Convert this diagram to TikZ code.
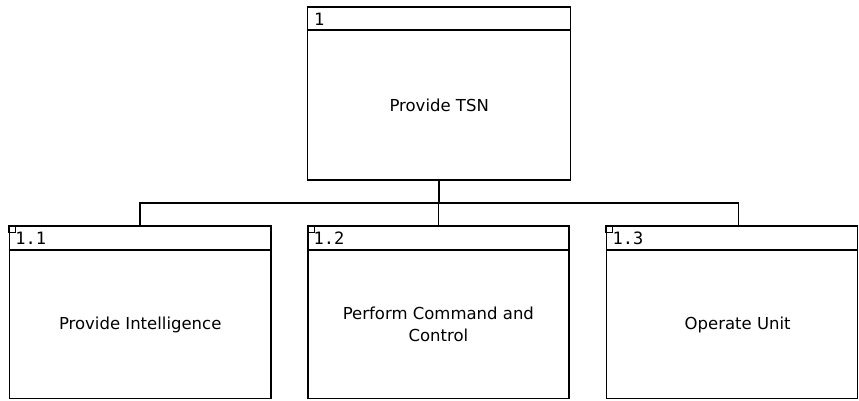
\documentclass[tikz,border=0pt]{standalone}
\usepackage{fontspec}
\setmainfont{DejaVu Sans}
\newfontfamily\hdrfont{DejaVu Sans Mono}
\usetikzlibrary{calc}
\tikzset{
  box/.style={draw=black, line width=1.5pt, rectangle, inner sep=0pt, fill=white},
  conn/.style={draw=black, line width=1.5pt},
  hdr/.style={anchor=base west, inner sep=0pt, font=\hdrfont\fontsize{17}{17}\selectfont},
  body/.style={align=center, inner sep=0pt, font=\fontsize{16.5}{21.7}\selectfont},
}
\begin{document}
\begin{tikzpicture}[x=1pt,y=1pt]
\useasboundingbox (0,0) rectangle (859,-400);
% boxes
\node[box, minimum width=263pt, minimum height=173pt] (t) at (439.2,-93.5) {};
\node[box, minimum width=261.7pt, minimum height=172.5pt] (c1) at (140.2,-312.25) {};
\node[box, minimum width=261.3pt, minimum height=172.5pt] (c2) at (438.4,-312.25) {};
\node[box, minimum width=250.8pt, minimum height=172.5pt] (c3) at (732.1,-312.25) {};
% header lines
\draw[conn] ([yshift=-23.5pt]t.north west) -- ([yshift=-23.5pt]t.north east);
\draw[conn] ([yshift=-24.7pt]c1.north west) -- ([yshift=-24.7pt]c1.north east);
\draw[conn] ([yshift=-24.7pt]c2.north west) -- ([yshift=-24.7pt]c2.north east);
\draw[conn] ([yshift=-24.7pt]c3.north west) -- ([yshift=-24.7pt]c3.north east);
% small corner squares
\draw[line width=1pt] (c1.north west) rectangle ++(7,-7);
\draw[line width=1pt] (c2.north west) rectangle ++(7,-7);
\draw[line width=1pt] (c3.north west) rectangle ++(7,-7);
% header labels
\node[hdr] (tl) at ([xshift=7pt,yshift=-19pt]t.north west) {1};
\node[hdr] (c1l) at ([xshift=6.5pt,yshift=-19pt]c1.north west) {1.1};
\node[hdr] (c2l) at ([xshift=6.5pt,yshift=-19pt]c2.north west) {1.2};
\node[hdr] (c3l) at ([xshift=6.5pt,yshift=-19pt]c3.north west) {1.3};
% body labels
\node[body] (tb) at ($(t.south)!0.5!([yshift=-23.5pt]t.north)$) {Provide TSN};
\node[body] (c1b) at ($(c1.south)!0.5!([yshift=-24.7pt]c1.north)$) {Provide Intelligence};
\node[body] (c2b) at ($(c2.south)!0.5!([yshift=-24.7pt]c2.north)$) {Perform Command and\\Control};
\node[body] (c3b) at ([xshift=5.6pt]$(c3.south)!0.5!([yshift=-24.7pt]c3.north)$) {Operate Unit};
% connectors
\coordinate (bus) at (0,-203);
\coordinate (c3top) at (738.3,-226);
\draw[conn] (t.south) -- (t.south |- bus);
\draw[conn] (c1.north) |- (c3top |- bus) -- (c3top);
\draw[conn] (c2.north) -- (c2.north |- bus);
\end{tikzpicture}
\end{document}
